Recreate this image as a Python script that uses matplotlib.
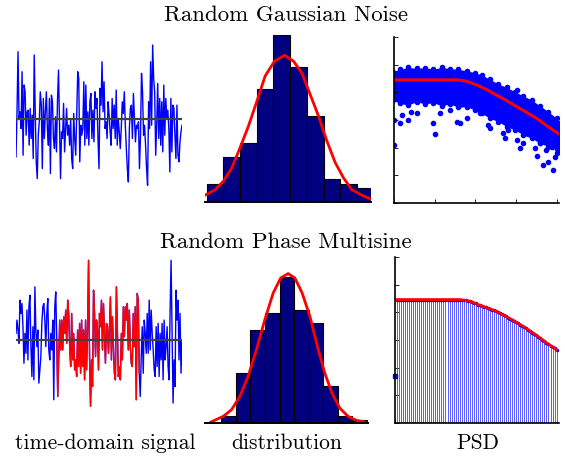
import numpy as np
import matplotlib
matplotlib.use('Agg')
import matplotlib.pyplot as plt

plt.rcParams['font.family'] = ['cmr10', 'DejaVu Serif']
plt.rcParams['axes.formatter.use_mathtext'] = True

# ---- time-domain signals (arbitrary units)
noise_a = [-115, 20, 200, 0, 20, -30, 140, -110, 100, 80, -50, 20, 25, -80, 30, -60, 10,
           -120, 190, 20, -130, -180, -50, -10, 80, 40, -150, 60, -60, 20, 80, -30, -80, 60,
           -165, 70, 50, -60, -90, 5, -100, 55, 145, -20, -180, -40, -60, 45, -100, -30, 30,
           -50, -20, -80, 0, -120, -150, 15, -60, -110, 15, 140, 120, -130, -20, -50, -30,
           110, -80, 100, -60, 20, -80, 50, 75, -60, 25, -70, 80, 30, 60, -60]
noise_b = [-150, 90, 40, 170, 20, 110, -30, -10, -60, 50, 10, -40, -80, 60, -30, 40, -60,
           85, -80, 0, -40, -90, -30, 50, 15, 80, -20, -90, -150, -190, -30, 30, 40, -60, 75,
           0, -70, -20, -30, -10, -150, -50, 135, 80, -50, -20, -80, -150, -200, 50, -30, 170,
           -20, 220, 120, 80, -110, -20, 105, -60, 60, -80, 50, -100, 100, -50, 60, 0, 25,
           -30, -160, 60, -100, 40, 30, -50, -120, 40, -110, -130, -70, -40, -20]
noise = noise_a + noise_b

msine_a = [20, 60, 30, -10, 120, 80, 110, 40, -70, 20, -40, 90, -60, 100, 135, -20, -110, 40,
           -120, 160, 30, -20, 30, -130, -90, -50, 50, 100, 110, 60, -20, 80, 125, -30, -60,
           20, -30, 60, -180, 100, 145, 0,
           -170, -50, 60, -30, 60, -30, 70, 20, 90, -10, 120, 80, -20, -80, 80, -60, 20, -90,
           -60, -110, 30, -80, 50, -100, 60, -80, 30, -120, 60, -90, 30, 240, -50, -200, -60,
           -140, 150, 80, -50, 60]
msine_b = [30, -90, 80, 40, 120, -30, 110, 20, -70, 50, 40, -40, 30, 130, -60, 70, -20, -100,
           -120, 160, 30, -110, -80, -120, 20, -60, 100, 10, 100, 60, 110, -30, 90, -20, -70,
           -80, 80, -20, 100, -180, 140, 120, -100,
           -170, -50, 40, -100, 60, 20, -40, 80, -40, 120, -30, 90, 20, -30, -90, -110, 40,
           -80, 50, -110, 20, -60, 50, -120, 60, -60, -20, 40, -80, -120, 80, 240, 20, -190,
           -60, -140, 150, 60, 120, -60, 80, -100, 0]
msine = msine_a + msine_b
red_start = 42
red_end = len(msine_a) + 42

# ---- histograms
noise_counts = [4, 10, 13, 25, 37, 30, 19, 5, 4, 3]
noise_fit_x = [-5.1, -4.5, -4.0, -3.5, -2.96, -2.5, -1.96, -1.5, -0.94, -0.34, 0.2, 0.7, 1.2,
               1.7, 2.2, 2.7, 3.2, 3.7, 4.3, 4.8]
noise_fit_y = [1.5, 2.7, 4.6, 7.5, 12.4, 16.8, 22.7, 27.9, 31.2, 32.5, 31.2, 28.6, 23.8, 19.0,
               13.5, 8.7, 5.3, 2.7, 1.5, 0.7]

msine_counts = [0, 2, 15, 28, 33, 44, 34, 30, 11, 2, 1]
msine_fit_x = [0.3, 1.14, 1.71, 2.28, 2.85, 3.42, 4.0, 4.57, 5.09, 5.59, 6.05, 6.55, 7.08,
               7.6, 8.1, 8.6, 9.13, 9.7, 10.27, 10.84]
msine_fit_y = [0.3, 2.0, 4.0, 8.0, 14.1, 22.1, 31.2, 39.2, 43.7, 45.0, 43.7, 39.2, 32.2, 23.1,
               15.1, 9.0, 4.5, 2.0, 0.8, 0.3]

# ---- PSD of the noise: dense cloud (envelope), outliers and model line
cloud_x = [-0.03, 0.15, 0.34, 0.56, 0.76, 0.97, 1.17, 1.38, 1.58, 1.79, 1.99, 2.16, 2.36,
           2.57, 2.77, 2.98, 3.18, 3.39, 3.59, 3.8, 4.0, 4.08]
cloud_hi = [4.75, 4.83, 4.9, 4.87, 4.89, 4.84, 4.9, 4.86, 4.83, 4.78, 4.71, 4.63, 4.47, 4.3,
            4.18, 4.02, 3.87, 3.72, 3.51, 3.3, 3.06, 2.88]
cloud_lo = [3.72, 3.6, 3.54, 3.66, 3.58, 3.63, 3.51, 3.58, 3.46, 3.48, 3.36, 3.24, 3.06, 2.94,
            2.76, 2.64, 2.46, 2.34, 2.16, 2.04, 1.94, 1.89]
outl_x = [0, 0, 0.15, 0.19, 0.35, 0.43, 0.56, 0.97, 1.01, 1.13, 1.38, 1.54, 1.62, 1.79, 2.11,
          2.32, 2.36, 2.69, 2.73, 2.81, 3.02, 3.02, 3.1, 3.18, 3.26, 3.47, 3.51, 3.59, 3.67,
          3.75, 3.8, 3.92, 3.96, 4.0, 3.88]
outl_y = [3.0, 2.1, 2.88, 3.18, 3.0, 3.3, 3.24, 2.88, 2.48, 3.24, 3.36, 2.94, 2.9, 3.06, 3.24,
          2.82, 2.7, 2.52, 2.34, 2.64, 4.08, 2.28, 1.98, 2.16, 2.52, 1.98, 1.7, 2.16, 1.37,
          1.92, 1.49, 1.19, 1.67, 1.8, 2.04]
model_x = [0, 1.58, 1.79, 2.03, 2.28, 2.52, 2.77, 3.02, 3.26, 3.51, 3.75, 4.06]
model_y = [4.45, 4.45, 4.4, 4.27, 4.1, 3.9, 3.7, 3.48, 3.28, 3.06, 2.8, 2.49]

# ---- PSD of the multisine (one value per excited line)
df = 0.05
dc_value = 1.69
line_psd = [4.46] * 32 + [
    4.45, 4.44, 4.43, 4.42, 4.40, 4.38, 4.35, 4.32, 4.28, 4.26, 4.23, 4.21, 4.18, 4.15,
    4.13, 4.10, 4.07, 4.04, 4.00, 3.97, 3.93, 3.89, 3.85, 3.81, 3.77, 3.73, 3.69, 3.64,
    3.60, 3.56, 3.51, 3.47, 3.42, 3.37, 3.32, 3.27, 3.22, 3.17, 3.12, 3.06, 3.01, 2.95,
    2.90, 2.85, 2.80, 2.75, 2.70, 2.65]

W, H = 565, 457
fig = plt.figure(figsize=(W / 100, H / 100), dpi=100)


def box(x0, y0, x1, y1):
    return fig.add_axes([x0 / W, 1 - y1 / H, (x1 - x0) / W, (y1 - y0) / H])


def time_panel(ax, sig):
    ax.plot(np.arange(len(sig)), sig, color='blue', lw=1.0)
    ax.axhline(0, color='#404040', lw=1.6, zorder=5)
    ax.set_xlim(0, len(sig) - 1)
    ax.set_ylim(-250, 250)
    ax.axis('off')


def hist_panel(ax, counts, fx, fy, xlim, ylim):
    edges = np.arange(len(counts) + 1) - (5 if len(counts) == 10 else 0)
    ax.bar(edges[:-1], counts, width=1, align='edge', color='#000080',
           edgecolor='black', lw=0.8)
    ax.plot(fx, fy, color='red', lw=2)
    ax.set_xlim(*xlim)
    ax.set_ylim(*ylim)
    for s in ['left', 'right', 'top']:
        ax.spines[s].set_visible(False)
    ax.spines['bottom'].set_linewidth(1.4)
    ax.set_xticks([])
    ax.set_yticks([])


def psd_axes(ax):
    ax.set_xlim(0, 4.06)
    ax.set_ylim(0, 6)
    ax.set_xticks(range(5))
    ax.set_yticks(range(7))
    ax.tick_params(direction='in', length=3, width=0.6, labelbottom=False, labelleft=False)
    ax.spines['right'].set_visible(False)
    ax.spines['top'].set_visible(False)
    ax.spines['left'].set_linewidth(1.2)
    ax.spines['bottom'].set_linewidth(1.2)


# row 1
ax = box(16, 35, 182, 202)
time_panel(ax, noise)

ax = box(205, 35, 371, 202)
hist_panel(ax, noise_counts, noise_fit_x, noise_fit_y, (-5.1, 4.84), (0, 37))

ax = box(394, 37, 559, 203)
ax.fill_between(cloud_x, cloud_lo, cloud_hi, color='blue', lw=0)
ax.plot(cloud_x, cloud_hi, 'o', color='blue', ms=3)
ax.plot(cloud_x, cloud_lo, 'o', color='blue', ms=3)
ax.plot(outl_x, outl_y, 'o', color='blue', ms=3)
ax.plot(model_x, model_y, color='red', lw=2.2)
psd_axes(ax)

# row 2
ax = box(16, 257, 182, 423)
time_panel(ax, msine)
idx = np.arange(red_start - 1, red_end + 1)
ax.plot(idx, [msine[i] for i in idx], color='red', lw=1.0, zorder=3)

ax = box(205, 257, 368, 423)
hist_panel(ax, msine_counts, msine_fit_x, msine_fit_y, (-0.11, 11.07), (0, 50))

ax = box(395, 257, 559, 423)
freqs = np.arange(1, len(line_psd) + 1) * df
ax.vlines(freqs, 0, line_psd, color='#5a5aff', lw=0.7)
ax.plot(freqs, line_psd, '.', color='blue', ms=3)
ax.plot(freqs, line_psd, color='red', lw=2)
ax.plot([0], [dc_value], 's', color='blue', ms=2.5, clip_on=False)
psd_axes(ax)

# texts
fig.text(286 / W, 1 - 15 / H, 'Random Gaussian Noise', ha='center', va='center', fontsize=16.5)
fig.text(286 / W, 1 - 242 / H, 'Random Phase Multisine', ha='center', va='center', fontsize=16.5)
fig.text(105 / W, 1 - 443 / H, 'time-domain signal', ha='center', va='center', fontsize=15.5)
fig.text(287 / W, 1 - 443 / H, 'distribution', ha='center', va='center', fontsize=15.5)
fig.text(478 / W, 1 - 443 / H, 'PSD', ha='center', va='center', fontsize=15.5)

fig.savefig('out.png', dpi=100)
